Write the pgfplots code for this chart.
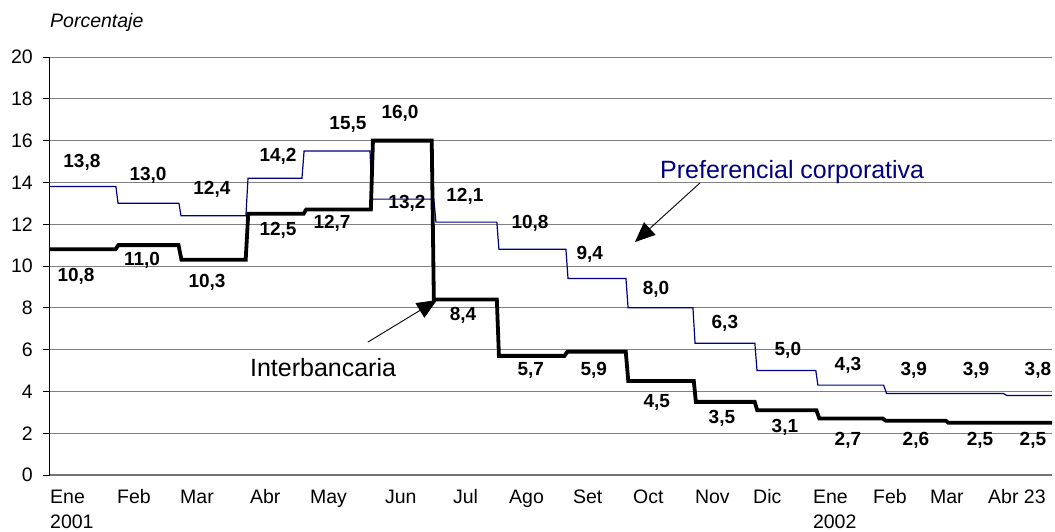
\documentclass[border=0pt]{standalone}
\usepackage{fontspec}
\setmainfont{Liberation Sans}
\usepackage{pgfplots}
\pgfplotsset{compat=1.18}
\usetikzlibrary{arrows.meta}
\definecolor{navyc}{RGB}{0,0,128}
\begin{document}
\begin{tikzpicture}
\begin{axis}[
 scale only axis, width=1002pt, height=418pt,
 xmin=0, xmax=477.2, ymin=0, ymax=20,
 axis x line=bottom, axis y line=left,
 axis line style={-},
 x axis line style={black!55, line width=1.3pt},
 y axis line style={black, line width=1pt},
 ytick={0,2,...,20},
 xtick={0,31.9,61.9,95.2,123.8,159.5,191.9,218.6,249.0,277.6,307.1,334.8,363.3,391.9,419.0,446.7},
 xticklabels={Ene,Feb,Mar,Abr,May,Jun,Jul,Ago,Set,Oct,Nov,Dic,Ene,Feb,Mar,Abr 23},
 xticklabel style={anchor=base west, inner sep=0pt, font=\fontsize{19.5}{23}\selectfont, yshift=-21pt},
 major x tick style={draw=none},
 tick align=outside, major tick length=7pt,
 major y tick style={black, line width=0.8pt},
 yticklabel style={font=\fontsize{19.5}{23}\selectfont, inner sep=0pt, anchor=east, xshift=-10pt},
 /pgf/number format/assume math mode=true,
 ymajorgrids, grid style={black!50, line width=0.8pt},
 clip=false,
]
% Preferencial corporativa
\addplot[navyc, line width=1.2pt] coordinates {
(0,13.8) (31.4,13.8) (32.4,13.0) (61.4,13.0) (62.4,12.4) (93.3,12.4) (94.3,14.2)
(120,14.2) (121,15.5) (152.4,15.5) (153.4,13.2) (182.8,13.2) (183.8,12.1)
(212.8,12.1) (213.8,10.8) (245.7,10.8) (246.7,9.4) (274.3,9.4) (275.3,8.0)
(306.2,8.0) (307.2,6.3) (335.7,6.3) (336.7,5.0) (364.7,5.0) (365.7,4.3)
(397,4.3) (398.4,3.9) (454,3.9) (455.8,3.8) (477.2,3.8)};
% Interbancaria
\addplot[black, line width=3.8pt] coordinates {
(0,10.8) (31.2,10.8) (32.6,11.0) (61.2,11.0) (62.6,10.3) (93.2,10.3) (94.4,12.5)
(120.8,12.5) (122,12.7) (152.8,12.7) (153.8,16.0) (181.8,16.0) (182.8,8.4)
(212.8,8.4) (213.8,5.7) (245,5.7) (246.4,5.9) (274.2,5.9) (275.4,4.5)
(306.6,4.5) (307.6,3.5) (335.6,3.5) (336.8,3.1) (365,3.1) (366.4,2.7)
(396.6,2.7) (398,2.6) (426.6,2.6) (427.8,2.5) (477.2,2.5)};
% data labels
\begin{scope}[every node/.style={font=\bfseries\fontsize{19}{22}\selectfont, inner sep=0pt}]
\node at (axis cs:15.2,14.98) {13,8};
\node at (axis cs:46.7,14.35) {13,0};
\node at (axis cs:77.1,13.68) {12,4};
\node at (axis cs:108.6,15.26) {14,2};
\node at (axis cs:141.9,16.75) {15,5};
\node at (axis cs:166.7,17.3) {16,0};
\node at (axis cs:170,13.01) {13,2};
\node at (axis cs:197.6,13.35) {12,1};
\node at (axis cs:228.6,12.06) {10,8};
\node at (axis cs:257.1,10.57) {9,4};
\node at (axis cs:288.6,8.90) {8,0};
\node at (axis cs:321.4,7.27) {6,3};
\node at (axis cs:351.4,5.98) {5,0};
\node at (axis cs:380,5.26) {4,3};
\node at (axis cs:411.4,5.02) {3,9};
\node at (axis cs:441,5.02) {3,9};
\node at (axis cs:470.5,5.02) {3,8};
\node at (axis cs:12.4,9.52) {10,8};
\node at (axis cs:43.8,10.29) {11,0};
\node at (axis cs:74.8,9.23) {10,3};
\node at (axis cs:108.6,11.72) {12,5};
\node at (axis cs:134.3,12.06) {12,7};
\node at (axis cs:196.7,7.66) {8,4};
\node at (axis cs:229,5.02) {5,7};
\node at (axis cs:259,5.02) {5,9};
\node at (axis cs:289,3.49) {4,5};
\node at (axis cs:320,2.73) {3,5};
\node at (axis cs:350,2.30) {3,1};
\node at (axis cs:380,1.67) {2,7};
\node at (axis cs:412.4,1.67) {2,6};
\node at (axis cs:442.9,1.67) {2,5};
\node at (axis cs:468.1,1.67) {2,5};
\end{scope}
% year labels under the January ticks
\node[anchor=base west, inner sep=0pt, font=\fontsize{19.5}{23}\selectfont] at (axis cs:0,-2.55) {2001};
\node[anchor=base west, inner sep=0pt, font=\fontsize{19.5}{23}\selectfont] at (axis cs:363.3,-2.55) {2002};
% annotations
\node[anchor=west, inner sep=0pt, text=navyc, font=\fontsize{25}{30}\selectfont] at (axis cs:290.5,14.5) {Preferencial corporativa};
\node[anchor=west, inner sep=0pt, font=\fontsize{25}{30}\selectfont] at (axis cs:95.2,5.12) {Interbancaria};
\node[anchor=west, inner sep=0pt, font=\itshape\fontsize{19.5}{23}\selectfont] at (axis cs:0,21.63) {Porcentaje};
\draw[line width=0.9pt, -{Triangle[length=20pt,width=17pt]}] (axis cs:309.5,13.97) -- (axis cs:278.6,11.15);
\draw[line width=0.9pt, -{Triangle[length=20pt,width=17pt]}] (axis cs:151.4,6.36) -- (axis cs:184.3,8.37);
\end{axis}
\pgfresetboundingbox
\path (-50pt,-56pt) rectangle (1005pt,475pt);
\end{tikzpicture}
\end{document}
